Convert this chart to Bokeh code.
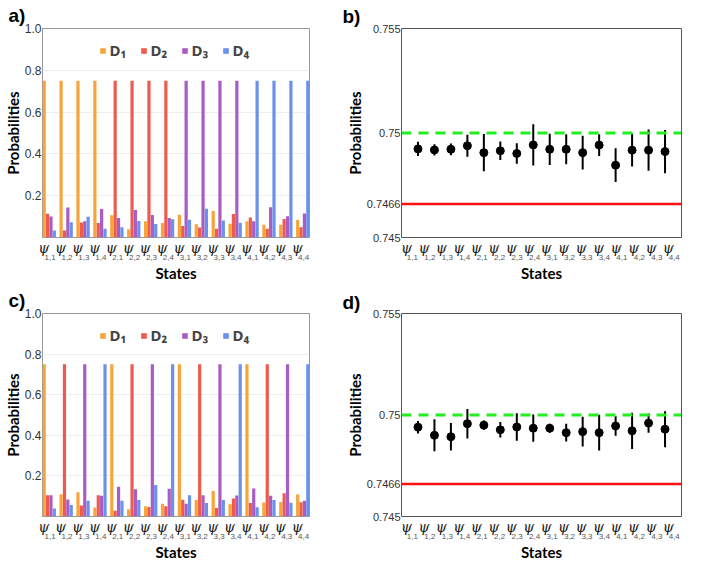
import numpy as np
from bokeh.plotting import figure
from bokeh.models import Range1d, FixedTicker, Span, LinearAxis
from bokeh.layouts import column, row
from bokeh.embed import file_html
from bokeh.resources import INLINE

# ---------------- data ----------------
states = ["1,1", "1,2", "1,3", "1,4", "2,1", "2,2", "2,3", "2,4",
          "3,1", "3,2", "3,3", "3,4", "4,1", "4,2", "4,3", "4,4"]
detectors = ["D₁", "D₂", "D₃", "D₄"]
det_colors = ["#F9A43A", "#EC5B4E", "#A95CC2", "#6A92EA"]

# panel a) probabilities per detector
a_D1 = [0.75, 0.75, 0.75, 0.75, 0.106, 0.039, 0.078, 0.069, 0.109, 0.063, 0.127, 0.066, 0.078, 0.061, 0.061, 0.084]
a_D2 = [0.114, 0.033, 0.072, 0.069, 0.75, 0.75, 0.75, 0.75, 0.055, 0.048, 0.042, 0.112, 0.096, 0.042, 0.088, 0.049]
a_D3 = [0.100, 0.143, 0.078, 0.136, 0.093, 0.132, 0.108, 0.093, 0.75, 0.75, 0.75, 0.75, 0.078, 0.145, 0.102, 0.115]
a_D4 = [0.033, 0.073, 0.099, 0.042, 0.049, 0.079, 0.064, 0.087, 0.085, 0.138, 0.081, 0.070, 0.75, 0.75, 0.75, 0.75]

# panel c) probabilities per detector
c_D1 = [0.75, 0.110, 0.120, 0.044, 0.75, 0.036, 0.050, 0.063, 0.75, 0.081, 0.126, 0.060, 0.75, 0.069, 0.072, 0.108]
c_D2 = [0.105, 0.75, 0.054, 0.105, 0.028, 0.75, 0.047, 0.051, 0.083, 0.75, 0.042, 0.089, 0.066, 0.75, 0.114, 0.070]
c_D3 = [0.105, 0.084, 0.75, 0.102, 0.147, 0.134, 0.75, 0.137, 0.063, 0.105, 0.75, 0.104, 0.138, 0.102, 0.75, 0.077]
c_D4 = [0.040, 0.057, 0.078, 0.75, 0.077, 0.081, 0.155, 0.75, 0.105, 0.066, 0.081, 0.75, 0.045, 0.081, 0.068, 0.75]

# panel b) success probability and error
b_mean = [0.74924, 0.74919, 0.74922, 0.74939, 0.74906, 0.74915, 0.74902, 0.74943,
          0.74922, 0.74922, 0.74906, 0.74942, 0.74846, 0.74918, 0.74918, 0.74911]
b_err = [0.00034, 0.00027, 0.00028, 0.00053, 0.00089, 0.00044, 0.00049, 0.00099,
         0.00075, 0.00072, 0.00081, 0.00052, 0.00081, 0.00078, 0.00099, 0.00103]

# panel d) success probability and error
d_mean = [0.74940, 0.74900, 0.74893, 0.74957, 0.74950, 0.74927, 0.74941, 0.74935,
          0.74935, 0.74913, 0.74918, 0.74913, 0.74946, 0.74922, 0.74960, 0.74930]
d_err = [0.00031, 0.00079, 0.00068, 0.00073, 0.00023, 0.00038, 0.00068, 0.00067,
         0.00022, 0.00044, 0.00073, 0.00088, 0.00048, 0.00089, 0.00048, 0.00089]

quantum_bound = 0.75
classical_bound = 0.7466

bar_yticks = [0.2, 0.4, 0.6, 0.8, 1.0]
bar_ylabels = ["0.2", "0.4", "0.6", "0.8", "1.0"]
pt_yticks = [0.745, 0.7466, 0.75, 0.755]
pt_ylabels = ["0.745", "0.7466", "0.75", "0.755"]

AX_FONT = "Lato"
TICK_FONT = "Liberation Sans"
TITLE_FONT = "Liberation Sans"


def state_axes(p, psi_pos, sub_pos):
    """Two stacked bottom axes: a 'ψ' row and a subscript row just under it."""
    psi_pos = [float(v) for v in psi_pos]
    sub_pos = [float(v) for v in sub_pos]
    ax1 = p.xaxis[0]
    ax1.ticker = FixedTicker(ticks=psi_pos)
    ax1.major_label_overrides = {t: "ψ" for t in psi_pos}
    ax1.major_label_text_font = "DejaVu Serif"
    ax1.major_label_text_font_style = "italic"
    ax1.major_label_text_font_size = "14px"
    ax1.major_label_text_color = "#222222"
    ax1.major_label_standoff = 2
    ax2 = LinearAxis(ticker=FixedTicker(ticks=sub_pos),
                     major_label_overrides={t: s for t, s in zip(sub_pos, states)})
    p.add_layout(ax2, "below")
    ax2.major_label_text_font = TICK_FONT
    ax2.major_label_text_font_size = "8px"
    ax2.major_label_text_color = "#555555"
    ax2.major_label_standoff = -4
    ax2.axis_label = "States"
    ax2.axis_label_standoff = 1
    for ax in (ax1, ax2):
        ax.axis_line_color = None
        ax.major_tick_in = 0
        ax.major_tick_out = 0
        ax.minor_tick_line_color = None
    ax2.axis_label_text_font = AX_FONT
    ax2.axis_label_text_font_style = "bold"
    ax2.axis_label_text_font_size = "15px"
    ax2.axis_label_text_color = "black"


def style_common(p, title, offset, standoff):
    p.title.text = title
    p.title.align = "left"
    p.title.offset = offset
    p.title.standoff = standoff
    p.title.text_font = TITLE_FONT
    p.title.text_font_style = "bold"
    p.title.text_font_size = "19px"
    p.title.text_color = "black"
    ay = p.yaxis[0]
    ay.axis_label = "Probabilities"
    ay.axis_label_text_font = AX_FONT
    ay.axis_label_text_font_style = "bold"
    ay.axis_label_text_font_size = "15px"
    ay.axis_label_text_color = "black"
    ay.axis_line_color = None
    ay.major_tick_in = 0
    ay.major_tick_out = 0
    ay.minor_tick_line_color = None
    ay.major_label_text_font = TICK_FONT
    ay.major_label_text_color = "#333333"
    ay.axis_label_standoff = 0
    ay.major_label_standoff = 1
    p.xgrid.visible = False
    p.background_fill_color = "white"
    p.border_fill_color = "white"


def bar_panel(title, D, height, standoff):
    p = figure(width=333, height=height, x_range=Range1d(-0.4, 15.4), y_range=Range1d(0, 1.0),
               output_backend="svg", toolbar_location=None,
               min_border_left=30, min_border_right=24, min_border_top=10, min_border_bottom=0)
    idx = np.arange(len(states))
    offsets = [-0.3, -0.1, 0.1, 0.3]
    for vals, col, lab, off in zip(D, det_colors, detectors, offsets):
        p.vbar(x=idx + off, top=vals, width=0.19, color=col, line_color=None, legend_label=lab)
    style_common(p, title, -34, standoff)
    p.yaxis.ticker = FixedTicker(ticks=bar_yticks)
    p.yaxis.major_label_overrides = {t: s for t, s in zip(bar_yticks, bar_ylabels)}
    p.yaxis.major_label_text_font_size = "12px"
    p.ygrid.grid_line_color = "#eeeeee"
    p.outline_line_color = "#999999"
    state_axes(p, idx - 0.33, idx + 0.05)
    lg = p.legend[0]
    lg.orientation = "horizontal"
    lg.location = "top"
    lg.margin = 6
    lg.padding = 6
    lg.spacing = 10
    lg.glyph_width = 7
    lg.glyph_height = 7
    lg.label_standoff = 4
    lg.label_text_font = "Noto Sans"
    lg.label_text_font_style = "bold"
    lg.label_text_font_size = "15px"
    lg.background_fill_alpha = 0
    lg.border_line_alpha = 0
    return p


def point_panel(title, mean, err, height, standoff):
    p = figure(width=349, height=height, x_range=Range1d(0, 17), y_range=Range1d(0.745, 0.755),
               output_backend="svg", toolbar_location=None,
               min_border_left=68, min_border_right=1, min_border_top=10, min_border_bottom=0)
    xs = np.arange(1, len(states) + 1)
    m = np.array(mean)
    e = np.array(err)
    p.add_layout(Span(location=quantum_bound, dimension="width", line_color="#22ee22",
                      line_width=3, line_dash="10 7"))
    p.add_layout(Span(location=classical_bound, dimension="width", line_color="#ff1111",
                      line_width=2.5))
    p.segment(x0=xs, y0=m - e, x1=xs, y1=m + e, line_color="black", line_width=2)
    p.scatter(x=xs, y=m, size=8, color="black")
    style_common(p, title, -59, standoff)
    p.yaxis.ticker = FixedTicker(ticks=pt_yticks)
    p.yaxis.major_label_overrides = {t: s for t, s in zip(pt_yticks, pt_ylabels)}
    p.yaxis.major_label_text_font_size = "11px"
    p.ygrid.visible = False
    p.outline_line_color = "#555555"
    lab_pos = 0.3 + np.arange(len(states)) * 1.06
    state_axes(p, lab_pos, lab_pos + 0.36)
    return p


pa = bar_panel("a)", [a_D1, a_D2, a_D3, a_D4], 284, 5)
pb = point_panel("b)", b_mean, b_err, 284, 3)
pc = bar_panel("c)", [c_D1, c_D2, c_D3, c_D4], 279, 6)
pd = point_panel("d)", d_mean, d_err, 279, 1)

layout = column(row(pa, pb), row(pc, pd))
open("out.html", "w").write(file_html(layout, INLINE))
